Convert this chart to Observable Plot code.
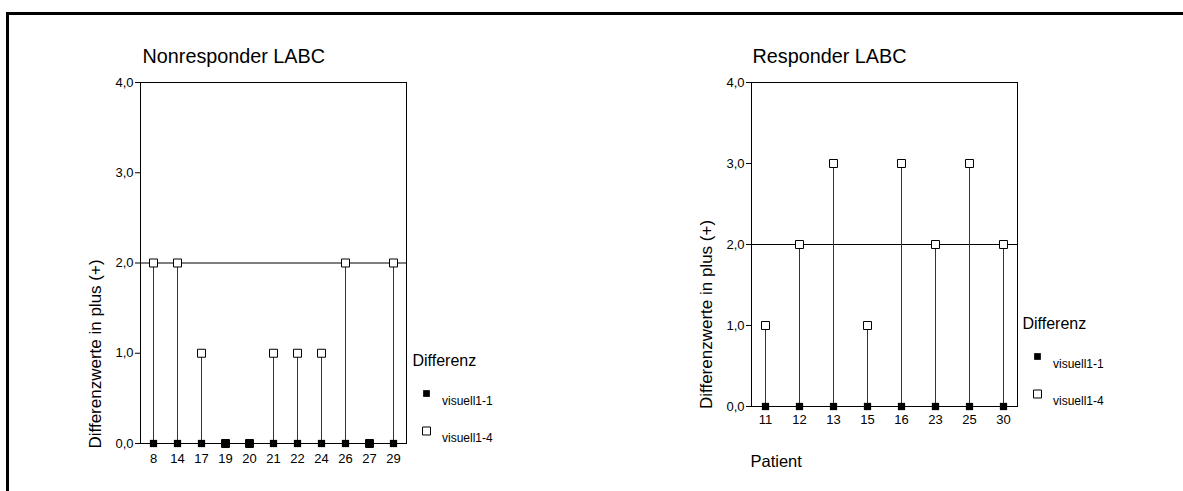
<!DOCTYPE html>
<html>
<head>
<meta charset="utf-8">
<script src="https://cdn.jsdelivr.net/npm/d3@7"></script>
<script src="https://cdn.jsdelivr.net/npm/@observablehq/plot@0.6"></script>
<style>
  body { margin: 0; background: #fff; font-family: "Liberation Sans", Arial, sans-serif; }
  #wrap { position: relative; width: 1183px; height: 491px; overflow: hidden; background: #fff; }
  #border { position: absolute; left: 6px; top: 12px; right: -10px; bottom: -10px;
            border-left: 3px solid #000; border-top: 3px solid #000; }
  .panel { position: absolute; top: 0; }
</style>
</head>
<body>
<div id="wrap">
  <div id="border"></div>
  <div id="left" class="panel" style="left:0px"></div>
  <div id="right" class="panel" style="left:600px"></div>
</div>
<script>
// ---- data ----
const nonresponderPatients = [8, 14, 17, 19, 20, 21, 22, 24, 26, 27, 29];
const nonresponderVisuell11 = [0, 0, 0, 0, 0, 0, 0, 0, 0, 0, 0];
const nonresponderVisuell14 = [2, 2, 1, 0, 0, 1, 1, 1, 2, 0, 2];

const responderPatients = [11, 12, 13, 15, 16, 23, 25, 30];
const responderVisuell11 = [0, 0, 0, 0, 0, 0, 0, 0];
const responderVisuell14 = [1, 2, 3, 1, 3, 2, 3, 2];

const yTicks = [0, 1, 2, 3, 4];
const referenceValue = [2];
const seriesNames = ["visuell1-1", "visuell1-4"];
const panelTitles = ["Nonresponder LABC", "Responder LABC"];
const yLabel = "Differenzwerte in plus (+)";
const xLabel = "Patient";
const legendTitle = "Differenz";

// ---- drawing ----
const fmt = d => d.toFixed(1).replace(".", ",");

function panel(cfg) {
  const rows = cfg.patients.map((p, i) => ({patient: String(p), v1: cfg.v1[i], v4: cfg.v4[i]}));
  const marks = [
    Plot.frame({stroke: "black"}),
    Plot.ruleY(referenceValue, {stroke: "black", strokeWidth: 1}),
    Plot.ruleX(rows, {x: "patient", y1: 0, y2: "v4", stroke: "#333", strokeWidth: 1}),
    Plot.axisY({ticks: yTicks, tickFormat: fmt, tickSize: 5, tickPadding: 2, label: null}),
    Plot.axisX({tickSize: 0, tickPadding: cfg.xPad, label: null}),
    Plot.dot(rows, {x: "patient", y: "v4", symbol: "square", r: 4.5, fill: "white", stroke: "black", strokeWidth: 1}),
    Plot.dot(rows, {x: "patient", y: "v1", symbol: "square", r: 4.1, fill: "black", stroke: "none"}),
    // title
    Plot.text([cfg.title], {frameAnchor: "top-left", textAnchor: "start", lineAnchor: "middle", dx: cfg.titleDx, dy: -25.5, fontSize: 19.8}),
    // y label
    Plot.text([yLabel], {frameAnchor: "left", textAnchor: "middle", lineAnchor: "middle", rotate: -90, dx: -45, dy: cfg.yLabelDy, fontSize: 17}),
    // legend
    Plot.text([legendTitle], {frameAnchor: "bottom-right", textAnchor: "start", lineAnchor: "middle", dx: cfg.legDx, dy: -83, fontSize: 16}),
    Plot.dot([seriesNames[0]], {frameAnchor: "bottom-right", dx: 20, dy: -50, symbol: "square", r: 3.8, fill: "black", stroke: "none"}),
    Plot.text([seriesNames[0]], {frameAnchor: "bottom-right", textAnchor: "start", lineAnchor: "middle", dx: 35.5, dy: -42, fontSize: 12}),
    Plot.dot([seriesNames[1]], {frameAnchor: "bottom-right", dx: 20, dy: -12.5, symbol: "square", r: 4.5, fill: "white", stroke: "black", strokeWidth: 1}),
    Plot.text([seriesNames[1]], {frameAnchor: "bottom-right", textAnchor: "start", lineAnchor: "middle", dx: 35.5, dy: -5.5, fontSize: 12})
  ];
  if (cfg.showXLabel) {
    marks.push(Plot.text([xLabel], {frameAnchor: "bottom-left", textAnchor: "start", lineAnchor: "middle", dx: -1, dy: 55, fontSize: 16.5}));
  }
  return Plot.plot({
    width: cfg.width,
    height: 491,
    marginLeft: cfg.marginLeft,
    marginRight: cfg.marginRight,
    marginTop: 82,
    marginBottom: cfg.marginBottom,
    style: {background: "transparent", color: "black", fontSize: "13px", fontFamily: "'Liberation Sans', Arial, sans-serif"},
    x: {type: "point", domain: cfg.patients.map(String), padding: 0, inset: 12},
    y: {domain: [0, 4]},
    marks
  });
}

document.getElementById("left").append(panel({
  patients: nonresponderPatients, v1: nonresponderVisuell11, v4: nonresponderVisuell14,
  title: panelTitles[0], width: 600, marginLeft: 140, marginRight: 194, marginBottom: 48,
  xPad: 10, yLabelDy: 91, titleDx: 2, legDx: 6, showXLabel: false
}));
document.getElementById("right").append(panel({
  patients: responderPatients, v1: responderVisuell11, v4: responderVisuell14,
  title: panelTitles[1], width: 583, marginLeft: 151, marginRight: 166, marginBottom: 85,
  xPad: 8.5, yLabelDy: 70, titleDx: 1, legDx: 5, showXLabel: true
}));
</script>
</body>
</html>
